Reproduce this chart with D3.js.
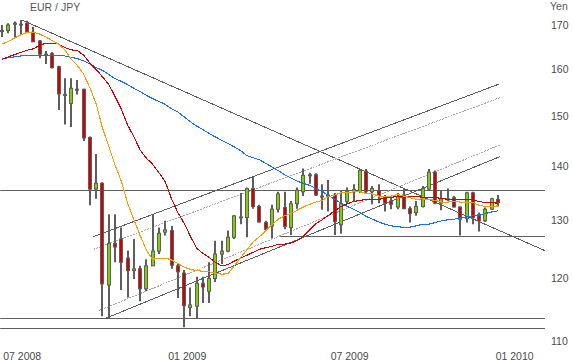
<!DOCTYPE html>
<html>
<head>
<meta charset="utf-8">
<script src="https://cdn.jsdelivr.net/npm/d3@7"></script>
<style>
  body { margin: 0; background: #fff; }
  svg { display: block; font-family: Arial, "Liberation Sans", sans-serif; }
</style>
</head>
<body>
<div id="chart"></div>
<script>
// Weekly EUR / JPY candles, Jun 2008 - Dec 2009
var weeks = d3.timeMonday.range(new Date(2008, 5, 9), new Date(2009, 11, 15));

var open = [168.7, 168.7, 170.4, 170.2, 170.4, 168.3, 166.3, 163.3, 163.4, 160.5,
  154.5, 152.6, 155.6, 155.6, 145.6, 135.6, 136.7, 118.8, 125.8, 126.6,
  123.3, 121.2, 121.5, 118.2, 122.0, 124.5, 127.8, 128.1, 122.0, 120.8,
  115.2, 115.4, 119.1, 117.8, 119.9, 124.0, 124.5, 126.9, 130.5, 130.4,
  135.7, 132.4, 129.5, 128.9, 131.9, 132.2, 128.6, 132.9, 135.1, 138.3,
  138.3, 134.3, 134.5, 134.5, 129.1, 133.3, 135.1, 135.2, 139.0, 135.1,
  135.3, 134.2, 133.4, 132.3, 134.5, 132.0, 131.3, 132.4, 135.6, 138.8,
  133.0, 133.8, 134.0, 132.3, 130.2, 134.9, 130.8, 129.8, 131.9, 133.7];
var high = [170.0, 170.4, 170.8, 171.2, 171.0, 169.6, 166.5, 164.0, 163.8, 160.7,
  158.0, 158.0, 157.6, 155.7, 145.8, 142.3, 136.9, 131.0, 131.0, 128.6,
  124.6, 126.6, 122.0, 123.1, 130.9, 128.6, 129.8, 128.9, 122.3, 121.3,
  118.4, 120.2, 120.2, 122.6, 126.3, 126.3, 128.1, 130.8, 134.9, 135.9,
  138.0, 132.7, 129.8, 132.7, 135.1, 135.1, 133.4, 135.9, 139.5, 138.7,
  138.6, 136.5, 137.3, 134.9, 135.3, 135.9, 136.5, 139.4, 139.4, 136.2,
  136.5, 134.5, 134.3, 134.9, 135.7, 132.4, 133.4, 136.2, 139.4, 139.1,
  135.3, 135.7, 134.3, 132.4, 135.1, 135.1, 131.3, 132.2, 134.0, 134.5];
var low = [167.2, 168.1, 166.9, 167.7, 168.1, 166.1, 162.4, 161.1, 160.1, 151.2,
  148.2, 147.7, 154.5, 144.9, 132.6, 133.8, 113.8, 113.5, 122.6, 118.0,
  116.8, 119.8, 116.2, 117.8, 122.0, 124.0, 127.2, 121.5, 116.7, 112.1,
  113.8, 113.5, 115.9, 115.9, 119.3, 122.3, 124.3, 126.6, 129.2, 126.9,
  132.0, 129.5, 128.0, 126.7, 131.3, 128.3, 127.3, 132.0, 134.3, 136.6,
  134.3, 131.8, 131.5, 127.3, 127.5, 133.0, 133.4, 134.9, 134.9, 132.8,
  133.0, 131.5, 131.9, 131.9, 131.9, 129.5, 130.7, 132.2, 135.4, 132.8,
  131.7, 133.4, 132.2, 127.2, 129.5, 129.2, 127.9, 129.6, 131.8, 132.4];
var close = [168.7, 170.0, 170.4, 170.2, 168.4, 166.1, 163.3, 163.3, 160.3, 154.6,
  154.5, 155.8, 155.6, 145.5, 135.6, 136.7, 119.0, 125.8, 125.2, 122.6,
  121.2, 121.5, 118.2, 122.0, 124.5, 127.6, 128.2, 122.1, 121.0, 115.5,
  115.6, 119.1, 118.5, 119.9, 124.0, 124.5, 126.9, 130.7, 130.5, 135.7,
  132.4, 129.6, 128.3, 131.9, 134.7, 128.8, 132.9, 135.4, 138.2, 138.3,
  134.5, 134.3, 134.5, 129.7, 132.9, 135.2, 135.5, 139.1, 135.2, 135.7,
  134.4, 133.0, 132.8, 134.2, 132.0, 131.1, 132.4, 135.7, 138.8, 133.0,
  133.8, 133.8, 132.3, 130.1, 134.9, 130.4, 129.8, 131.9, 133.8, 133.1];

// Moving averages (orange fast, red medium, blue slow)
var maFast = [165.6, 166.2, 167.0, 167.7, 168.3, 168.3, 167.9, 167.2, 166.4, 165.6,
  164.3, 162.2, 160.8, 158.9, 155.9, 152.5, 147.5, 143.9, 140.2, 137.1,
  133.0, 130.0, 127.2, 124.7, 123.1, 123.3, 123.3, 123.0, 122.4, 121.8,
  121.4, 121.2, 121.1, 121.0, 120.8, 120.6, 120.7, 122.0, 123.4, 124.7,
  126.1, 127.0, 128.0, 129.1, 130.1, 130.7, 131.1, 131.7, 132.3, 132.8,
  133.2, 133.5, 134.2, 134.5, 134.9, 134.9, 135.1, 135.1, 134.8, 134.7,
  134.3, 134.2, 134.3, 134.6, 134.3, 134.0, 133.7, 133.8, 133.7, 133.5,
  133.2, 133.2, 133.3, 133.2, 133.1, 133.1, 132.6, 132.4, 132.4, 132.5];
var maMid = [162.1, 162.7, 163.2, 163.7, 164.2, 164.5, 165.3, 165.8, 165.8, 165.6,
  164.8, 164.3, 164.1, 163.1, 161.3, 159.9, 158.3, 156.6, 154.1, 151.4,
  148.1, 145.8, 143.1, 141.5, 140.3, 138.7, 137.0, 133.8, 131.3, 129.4,
  127.1, 125.0, 124.1, 123.4, 122.6, 122.0, 122.2, 122.8, 123.3, 123.8,
  124.3, 124.8, 125.1, 125.3, 125.7, 125.7, 125.9, 126.3, 127.1, 128.2,
  129.3, 130.0, 130.8, 131.6, 132.4, 132.9, 133.3, 133.5, 133.7, 133.7,
  133.7, 133.9, 134.1, 134.2, 134.3, 134.2, 134.2, 134.1, 134.1, 134.0,
  133.9, 133.7, 133.7, 133.7, 133.7, 133.6, 133.3, 133.1, 133.1, 133.0];
var maSlow = [162.2, 162.5, 162.7, 162.9, 163.0, 163.1, 163.1, 163.1, 163.1, 163.0,
  162.9, 162.6, 162.3, 161.8, 161.1, 160.3, 159.7, 158.8, 157.9, 157.3,
  156.6, 155.8, 155.1, 154.3, 153.6, 153.0, 152.4, 151.5, 150.8, 149.8,
  148.8, 147.9, 147.2, 146.4, 145.7, 145.0, 144.4, 143.7, 143.0, 142.0,
  141.6, 141.2, 140.5, 139.8, 139.1, 138.3, 137.7, 137.1, 136.7, 136.3,
  135.7, 135.2, 134.4, 133.7, 133.0, 132.4, 131.9, 131.3, 130.6, 130.1,
  129.6, 129.2, 128.9, 128.8, 128.6, 128.7, 128.9, 129.2, 129.2, 129.5,
  129.8, 130.0, 130.1, 130.3, 130.5, 130.7, 130.9, 131.1, 131.4, 131.6];

// Support / resistance levels and where they start
var levelValues = [135.4, 127.1, 113.5, 112.0];
var levelStarts = ["2008-06-07", "2009-04-15", "2008-06-07", "2008-06-07"];

// Trend channel lines: [start date, start price, end date, end price]
var solidTrends = [
  ["2008-07-01", 171.2, "2010-02-04", 124.6],
  ["2008-09-19", 127.0, "2009-12-15", 156.7],
  ["2008-10-01", 113.4, "2009-12-16", 141.8]
];
var dottedTrends = [
  ["2008-09-19", 124.8, "2009-12-16", 153.8],
  ["2008-09-25", 114.7, "2009-12-16", 144.1]
];

var yTicks = [110, 120, 130, 140, 150, 160, 170];
var xTicks = ["2008-07-01", "2009-01-01", "2009-07-01", "2010-01-01"];

// Layout
var width = 573, height = 363;
var plotRight = 545;
var parse = d3.timeParse("%Y-%m-%d");

var svg = d3.select("#chart").append("svg")
  .attr("width", width)
  .attr("height", height);

var x = d3.scaleTime()
  .domain([weeks[0], weeks[weeks.length - 1]])
  .range([2, 498]);

var y = d3.scaleLog()
  .domain([110, 170])
  .range([341, 25]);

var gray = "#5e5e5e";

// Horizontal levels
svg.append("g").selectAll("line").data(levelValues).enter().append("line")
  .attr("x1", function (d, i) { return Math.max(0, x(parse(levelStarts[i]))); })
  .attr("x2", plotRight)
  .attr("y1", function (d) { return Math.round(y(d)) + 0.5; })
  .attr("y2", function (d) { return Math.round(y(d)) + 0.5; })
  .attr("stroke", gray)
  .attr("stroke-width", 1);

// Trend lines
svg.append("g").selectAll("line").data(solidTrends).enter().append("line")
  .attr("x1", function (d) { return x(parse(d[0])); })
  .attr("y1", function (d) { return y(d[1]); })
  .attr("x2", function (d) { return x(parse(d[2])); })
  .attr("y2", function (d) { return y(d[3]); })
  .attr("stroke", gray)
  .attr("stroke-width", 1)
  .attr("shape-rendering", "crispEdges");

svg.append("g").selectAll("line").data(dottedTrends).enter().append("line")
  .attr("x1", function (d) { return x(parse(d[0])); })
  .attr("y1", function (d) { return y(d[1]); })
  .attr("x2", function (d) { return x(parse(d[2])); })
  .attr("y2", function (d) { return y(d[3]); })
  .attr("stroke", "#a8a8a8")
  .attr("stroke-width", 1)
  .attr("stroke-dasharray", "2,1")
  .attr("shape-rendering", "crispEdges");

// Candles
var candles = svg.append("g").selectAll("g").data(weeks).enter().append("g")
  .attr("transform", function (d) { return "translate(" + Math.round(x(d)) + ",0)"; });

candles.append("line")
  .attr("y1", function (d, i) { return y(high[i]); })
  .attr("y2", function (d, i) { return y(low[i]); })
  .attr("stroke", gray)
  .attr("stroke-width", 2);

candles.append("rect")
  .attr("x", -1.5)
  .attr("width", 3)
  .attr("y", function (d, i) { return Math.min(y(open[i]), y(close[i])); })
  .attr("height", function (d, i) { return Math.max(1, Math.abs(y(open[i]) - y(close[i]))); })
  .attr("fill", function (d, i) {
    if (close[i] > open[i]) return "#7fd000";
    if (close[i] < open[i]) return "#d40000";
    return gray;
  })
  .attr("stroke", gray)
  .attr("stroke-width", 1);

// Moving averages
var maLine = d3.line()
  .x(function (d, i) { return x(weeks[i]); })
  .y(function (d) { return y(d); });

[[maSlow, "#1a6ef0"], [maMid, "#cc0000"], [maFast, "#f0a000"]].forEach(function (m) {
  svg.append("path")
    .attr("d", maLine(m[0]))
    .attr("fill", "none")
    .attr("stroke", m[1])
    .attr("stroke-width", 1.1)
    .attr("shape-rendering", "crispEdges");
});

// Axes
var yAxis = svg.append("g")
  .attr("transform", "translate(549,0)")
  .call(d3.axisRight(y).tickValues(yTicks).tickSize(0).tickPadding(2).tickFormat(d3.format("d")));
yAxis.select(".domain").remove();
yAxis.selectAll("text").attr("fill", "#4a4a4a").style("font-size", "10.5px");

var xAxis = svg.append("g")
  .attr("transform", "translate(0,350)")
  .call(d3.axisBottom(x).tickValues(xTicks.map(parse)).tickSize(0).tickPadding(3).tickFormat(d3.timeFormat("%m %Y")));
xAxis.select(".domain").remove();
xAxis.selectAll("text").attr("fill", "#4a4a4a").style("font-size", "10.5px");

// Titles
svg.append("text")
  .attr("x", 30).attr("y", 11)
  .attr("fill", "#555")
  .style("font-size", "10.5px")
  .text("EUR / JPY");

svg.append("text")
  .attr("x", 550).attr("y", 10)
  .attr("fill", "#555")
  .style("font-size", "10.5px")
  .text("Yen");
</script>
</body>
</html>
